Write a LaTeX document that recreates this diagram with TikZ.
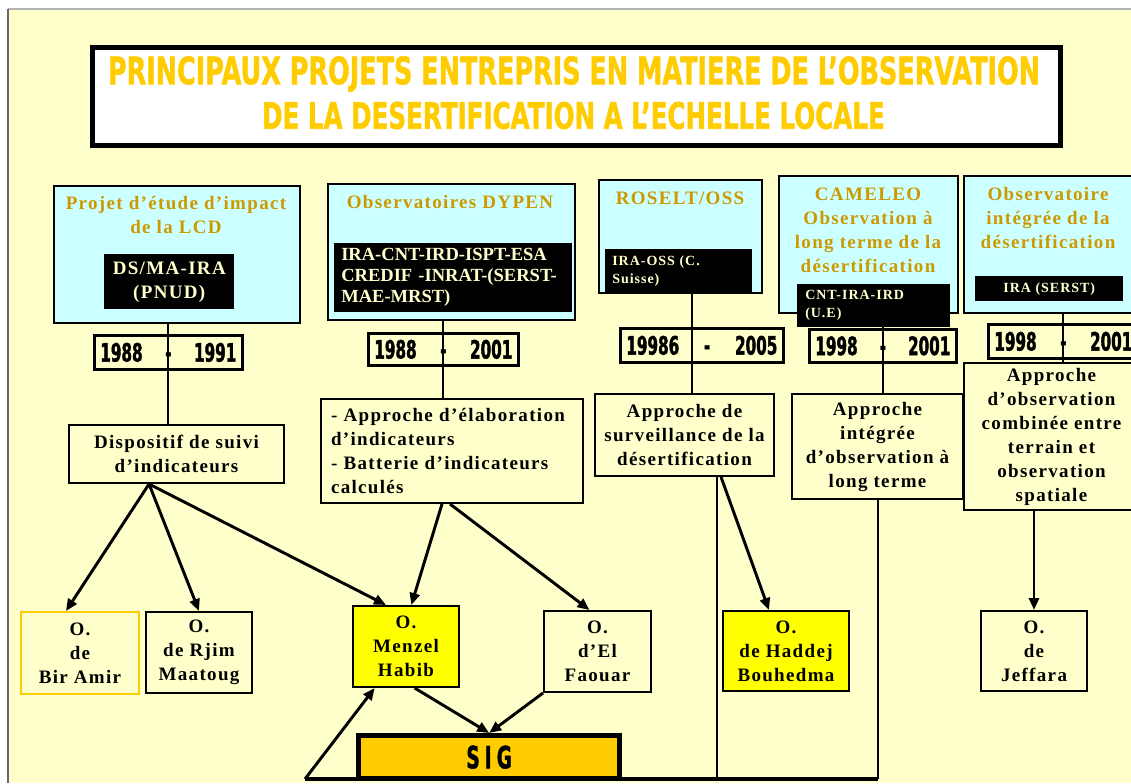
\documentclass[tikz,border=0pt]{standalone}
\usepackage{fontspec}
\usepackage{graphicx}
\usetikzlibrary{arrows.meta}

\setmainfont{Liberation Serif}
\newfontfamily\spacedfont[LetterSpace=7]{Liberation Serif}
\newfontfamily\heavyfont[FakeStretch=0.6, BoldFeatures={FakeBold=1.5}]{DejaVu Sans}
\newfontfamily\titlefont[BoldFeatures={FakeBold=1.5}]{DejaVu Sans}
\newcommand{\labelfont}{\spacedfont\bfseries\fontsize{14.25}{18}\selectfont}
\newcommand{\partfont}{\bfseries\fontsize{13.9}{15.75}\selectfont}
\newcommand{\smallfont}{\spacedfont\bfseries\fontsize{10.5}{13.5}\selectfont}
\newcommand{\yearfont}{\heavyfont\bfseries\fontsize{19}{20}\selectfont}

\definecolor{bgcream}{RGB}{255,255,204}
\definecolor{boxcyan}{RGB}{204,255,255}
\definecolor{titlegold}{RGB}{255,204,0}
\definecolor{labelgold}{RGB}{204,153,0}
\definecolor{obsyellow}{RGB}{255,255,0}

\tikzset{
  boxsize/.style 2 args={minimum width=#1*0.75pt, minimum height=#2*0.75pt},
  textw/.style={text width=#1*0.75pt},
}

\begin{document}
\begin{tikzpicture}[x=0.75pt,y=-0.75pt,
  projbox/.style={draw, line width=1.5pt, fill=boxcyan, anchor=north west, inner sep=0pt},
  projtitle/.style={text=labelgold, align=center, anchor=north, inner sep=0pt, font=\labelfont},
  partbox/.style={fill=black, text=bgcream, anchor=north west, inner sep=0pt, font=\partfont},
  yearbox/.style={draw, line width=2pt, fill=bgcream, anchor=north west, inner xsep=4.5pt, inner ysep=0pt, font=\yearfont},
  approchebox/.style={draw, line width=1.5pt, fill=bgcream, anchor=north west, inner sep=0pt, align=center, font=\labelfont},
  obsbox/.style={approchebox},
  link/.style={line width=1.5pt},
  arrow/.style={line width=2.2pt, -{Triangle[length=9pt,width=7.5pt]}},
  bus/.style={line width=3pt},
]
\useasboundingbox (0,0) rectangle (1131,783);

% background
\fill[white] (0,0) rectangle (1131,783);
\fill[bgcream] (8,10) rectangle (1131,783);
\draw[black!30, line width=2pt] (8,9) -- (1131,9);
\draw[black!60, line width=1.5pt] (8,9) -- (8,783);

% title
\node[draw, line width=4pt, fill=white, anchor=north west, boxsize={968}{98}] (title) at (90,45) {};
\node[text=titlegold, inner sep=0pt] (titleA) at (574,74)
  {\resizebox{699pt}{21pt}{\titlefont\bfseries PRINCIPAUX PROJETS ENTREPRIS EN MATIERE DE L’OBSERVATION}};
\node[text=titlegold, inner sep=0pt] (titleB) at (573.5,115.5)
  {\resizebox{467pt}{20.25pt}{\titlefont\bfseries DE LA DESERTIFICATION A L’ECHELLE LOCALE}};

% projects
\node[projbox, boxsize={246}{137}] (topA) at (53,185) {};
\node[projbox, boxsize={247}{136}] (topB) at (327,183) {};
\node[projbox, boxsize={163}{113}] (topC) at (598,179) {};
\node[projbox, boxsize={179}{137}] (topD) at (778,175) {};
\node[projbox, boxsize={180}{137}] (topE) at (963,175) {};

\node[projtitle] (nameA) at (176,196) {Projet d’étude d’impact\\de la LCD};
\node[projtitle] (nameB) at (450,195) {Observatoires DYPEN};
\node[projtitle] (nameC) at (680,192) {ROSELT/OSS};
\node[projtitle] (nameD) at (868,188) {CAMELEO\\Observation à\\long terme de la\\désertification};
\node[projtitle] (nameE) at (1048,187) {Observatoire\\intégrée de la\\désertification};

% partners
\node[partbox, boxsize={130}{55}, align=center, font=\labelfont] (partA) at (104,254) {DS/MA-IRA\\(PNUD)};
\node[partbox, boxsize={238}{69}, align=left, textw=224] (partB) at (334,243)
  {IRA-CNT-IRD-ISPT-ESA\\CREDIF -INRAT-(SERST-\\MAE-MRST)};
\node[partbox, boxsize={147}{43}, align=left, textw=133, font=\smallfont] (partC) at (605,249) {IRA-OSS (C.\\Suisse)};
\node[partbox, boxsize={153}{43}, align=left, textw=137, font=\smallfont] (partD) at (797,284) {CNT-IRA-IRD\\(U.E)};
\node[partbox, boxsize={148}{25}, align=center, font=\smallfont] (partE) at (975,276) {IRA (SERST)};

% periods
\node[yearbox, boxsize={148}{34}, textw=136] (yrA) at (93,334) {1988\hfill-\hfill1991};
\node[yearbox, boxsize={150}{32}, textw=138] (yrB) at (367,332) {1988\hfill-\hfill2001};
\node[yearbox, boxsize={163}{34}, textw=151] (yrC) at (619,327) {19986\hfill-\hfill2005};
\node[yearbox, boxsize={147}{33}, textw=135] (yrD) at (808,328) {1998\hfill-\hfill2001};
\node[yearbox, boxsize={150}{34}, textw=138] (yrE) at (987,323) {1998\hfill-\hfill2001};

% approaches
\node[approchebox, boxsize={215}{58}] (disp) at (68,424) {Dispositif de suivi\\d’indicateurs};
\node[approchebox, boxsize={262}{104}, align=left, textw=242] (elab) at (320,398)
  {- Approche d’élaboration\\d’indicateurs\\- Batterie d’indicateurs\\calculés};
\node[approchebox, boxsize={179}{82}] (surv) at (594,393) {Approche de\\surveillance de la\\désertification};
\node[approchebox, boxsize={171}{105}] (integ) at (791,393) {Approche\\intégrée\\d’observation à\\long terme};
\node[approchebox, boxsize={175}{147}] (comb) at (963,362)
  {Approche\\d’observation\\combinée entre\\terrain et\\observation\\spatiale};

% observatories
\node[obsbox, draw=titlegold, boxsize={118}{82}] (birAmir) at (20,611) {O.\\de\\Bir Amir};
\node[obsbox, boxsize={106}{81}] (rjim) at (145,611) {O.\\de Rjim\\Maatoug};
\node[obsbox, fill=obsyellow, boxsize={106}{81}] (menzel) at (352,605) {O.\\Menzel\\Habib};
\node[obsbox, boxsize={107}{81}] (faouar) at (543,610) {O.\\d’El\\Faouar};
\node[obsbox, fill=obsyellow, boxsize={126}{80}] (haddej) at (722,610) {O.\\de Haddej\\Bouhedma};
\node[obsbox, boxsize={106}{80}] (jeffara) at (980,610) {O.\\de\\Jeffara};

% SIG
\node[draw, line width=4pt, fill=titlegold, anchor=north west, boxsize={261}{43},
  font=\heavyfont\bfseries\fontsize{23}{24}\selectfont] (sig) at (356,733) {S\,I\,G};

% project -> approach
\draw[link] (topA.south -| yrA) -- (disp.north -| yrA);
\draw[link] (topB.south -| yrB) -- (elab.north -| yrB);
\draw[link] ([xshift=8.6pt]topC.south) -- ([xshift=8.6pt]topC.south |- surv.north);
\draw[link] (topD.south -| yrD) -- (integ.north -| yrD);
\draw[link] (topE.south -| yrE) -- (comb.north -| yrE);

% approach -> observatories
\coordinate (dispfan) at ([xshift=-20.6pt]disp.south);
\draw[arrow] (dispfan) -- ([xshift=-10.5pt]birAmir.north);
\draw[arrow] (dispfan) -- (rjim.north);
\draw[arrow] (dispfan) -- ([xshift=-15pt]menzel.north);
\draw[arrow] ([xshift=-7.5pt]elab.south) -- ([xshift=4pt]menzel.north);
\draw[arrow] ([xshift=-1.5pt]elab.south) -- ([xshift=-6pt]faouar.north);
\draw[arrow] ([xshift=27.4pt]surv.south) -- ([xshift=-12.75pt]haddej.north);
\draw[arrow] (jeffara.north |- comb.south) -- (jeffara.north);

% towards SIG
\coordinate (busL) at (305,779);
\draw[link] ([xshift=24.4pt]surv.south) -- ([xshift=24.4pt]surv.south |- busL);
\draw[link] (integ.south) -- (integ.south |- busL);
\draw[bus] (busL) -- (integ.south |- busL);
\draw[arrow] (busL) -- ([xshift=17pt]menzel.south west);
\draw[arrow] ([xshift=47pt]menzel.south west) -- (sig.north);
\draw[arrow] (faouar.south west) -- (sig.north);
\end{tikzpicture}
\end{document}
